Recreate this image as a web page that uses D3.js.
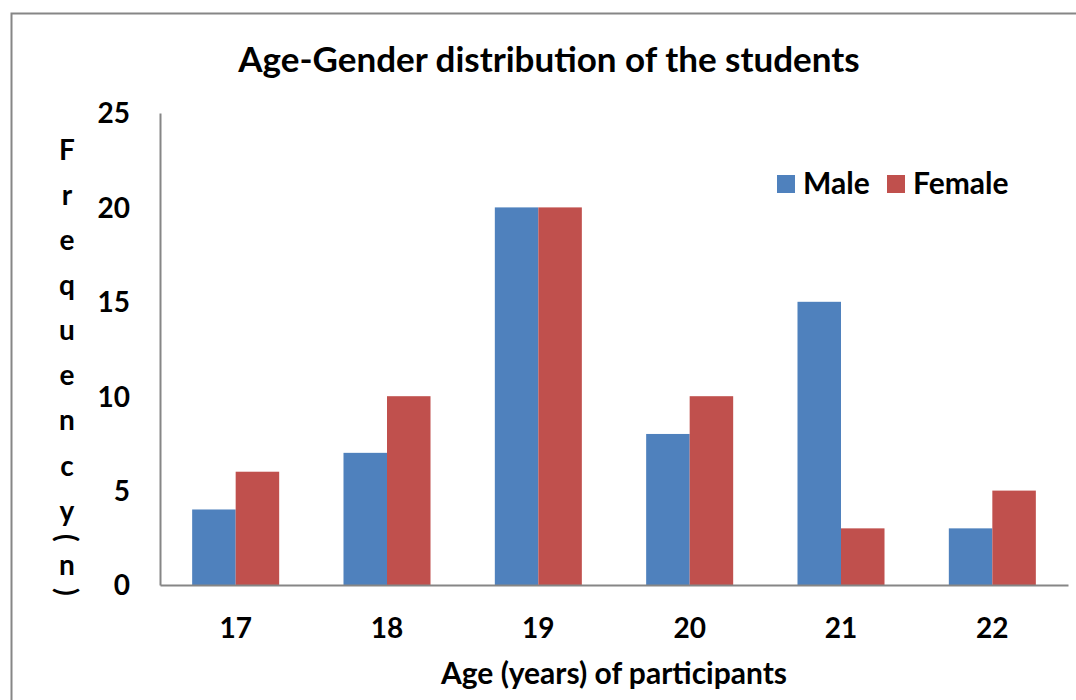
<!DOCTYPE html>
<html><head><meta charset="utf-8">
<script src="https://cdn.jsdelivr.net/npm/d3@7"></script>
<style>body{margin:0;background:#fff}svg{display:block}text{font-family:Lato,"Open Sans",sans-serif;font-weight:bold;fill:#000}</style>
</head><body>
<script>
const ages = ["17","18","19","20","21","22"];
const male = [4,7,20,8,15,3];
const female = [6,10,20,10,3,5];
const seriesNames = ["Male","Female"];
const colors = ["#4F81BD","#C0504D"];
const yTicks = [0,5,10,15,20,25];
const title = "Age-Gender distribution of the students";
const xTitle = "Age (years) of participants";
const yTitle = "Frequency(n)";

const W = 1076, H = 700;
const svg = d3.select("body").append("svg").attr("width",W).attr("height",H);
// outer border
svg.append("path").attr("d","M11.5,700 V13.5 H1076").attr("fill","none").attr("stroke","#868686").attr("stroke-width",2);

const pLeft=160, pRight=1068, pTop=113, pBottom=585;
const x = d3.scaleBand().domain(ages).range([pLeft,pRight]).paddingInner(0.425).paddingOuter(0.2125);
const xs = d3.scaleBand().domain(seriesNames).range([0,x.bandwidth()]);
const y = d3.scaleLinear().domain([0,25]).range([pBottom,pTop]);

const data = ages.map((a,i)=>({age:a, vals:[male[i],female[i]]}));
const g = svg.append("g");
g.selectAll("g.grp").data(data).join("g").attr("class","grp")
  .attr("transform",d=>`translate(${x(d.age)},0)`)
  .selectAll("rect").data(d=>d.vals.map((v,j)=>({v,j}))).join("rect")
  .attr("x",d=>xs(seriesNames[d.j])).attr("width",xs.bandwidth())
  .attr("y",d=>y(d.v)).attr("height",d=>y(0)-y(d.v))
  .attr("fill",d=>colors[d.j]);

// axes
const ya = svg.append("g").attr("transform",`translate(${pLeft},0)`)
  .call(d3.axisLeft(y).tickValues(yTicks).tickSize(0).tickPadding(30));
ya.select(".domain").attr("stroke","#868686").attr("stroke-width",2);
ya.selectAll("text").style("font-size","28px").attr("dy","0.35em").attr("text-anchor","end");

const xa = svg.append("g").attr("transform",`translate(0,${pBottom})`)
  .call(d3.axisBottom(x).tickSize(0).tickPadding(33));
xa.select(".domain").attr("stroke","#868686").attr("stroke-width",2);
xa.selectAll("text").style("font-size","28px");

svg.append("text").attr("x",549).attr("y",72).attr("text-anchor","middle").style("font-size","35px").text(title);
svg.append("text").attr("x",614).attr("y",684).attr("text-anchor","middle").style("font-size","30px").text(xTitle);

// stacked y title
let yy = 150;
const chars = yTitle.split("");
chars.forEach((c,i)=>{
  const isP = c==="("||c===")";
  if(i>0){ const prevP = chars[i-1]==="("||chars[i-1]===")"; yy += (isP||prevP)?27:45.1; }
  const t = svg.append("text").attr("text-anchor","middle").style("font-size","28px").text(c);
  if(isP){ t.attr("transform",`translate(67,${yy}) rotate(90)`).attr("dy","0.35em"); }
  else { t.attr("x",67).attr("y",yy).attr("dy","0.35em"); }
});

// legend
const leg = svg.append("g");
const legX = [777, 887];
seriesNames.forEach((s,i)=>{
  leg.append("rect").attr("x",legX[i]).attr("y",175).attr("width",18).attr("height",18).attr("fill",colors[i]);
  leg.append("text").attr("x",legX[i]+26).attr("y",194).style("font-size","30px").text(s);
});
</script>
</body></html>
